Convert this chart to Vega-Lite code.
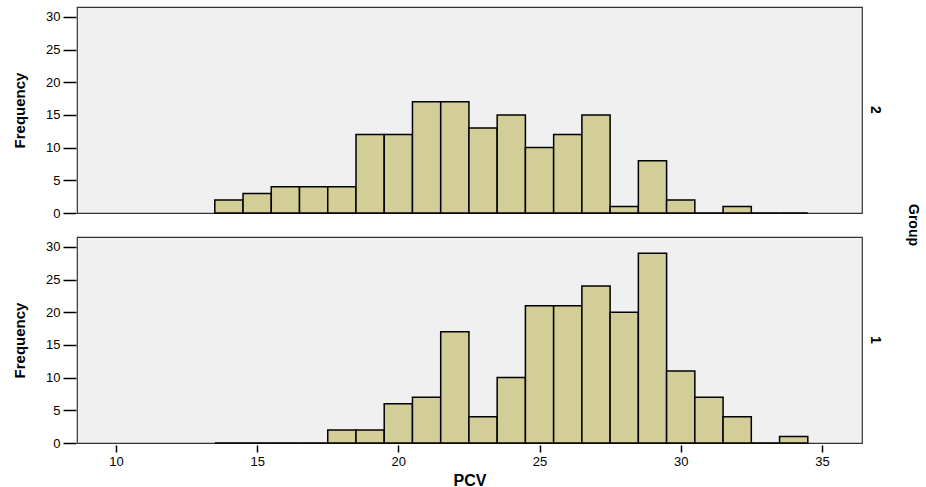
{
  "$schema": "https://vega.github.io/schema/vega-lite/v6.json",
  "padding": {"left": 12, "top": 6, "right": 2, "bottom": 2},
  "data": {"values": [
    {"group": 2, "bin_start": 13.5, "bin_end": 14.5, "count": 2},
    {"group": 2, "bin_start": 14.5, "bin_end": 15.5, "count": 3},
    {"group": 2, "bin_start": 15.5, "bin_end": 16.5, "count": 4},
    {"group": 2, "bin_start": 16.5, "bin_end": 17.5, "count": 4},
    {"group": 2, "bin_start": 17.5, "bin_end": 18.5, "count": 4},
    {"group": 2, "bin_start": 18.5, "bin_end": 19.5, "count": 12},
    {"group": 2, "bin_start": 19.5, "bin_end": 20.5, "count": 12},
    {"group": 2, "bin_start": 20.5, "bin_end": 21.5, "count": 17},
    {"group": 2, "bin_start": 21.5, "bin_end": 22.5, "count": 17},
    {"group": 2, "bin_start": 22.5, "bin_end": 23.5, "count": 13},
    {"group": 2, "bin_start": 23.5, "bin_end": 24.5, "count": 15},
    {"group": 2, "bin_start": 24.5, "bin_end": 25.5, "count": 10},
    {"group": 2, "bin_start": 25.5, "bin_end": 26.5, "count": 12},
    {"group": 2, "bin_start": 26.5, "bin_end": 27.5, "count": 15},
    {"group": 2, "bin_start": 27.5, "bin_end": 28.5, "count": 1},
    {"group": 2, "bin_start": 28.5, "bin_end": 29.5, "count": 8},
    {"group": 2, "bin_start": 29.5, "bin_end": 30.5, "count": 2},
    {"group": 2, "bin_start": 30.5, "bin_end": 31.5, "count": 0},
    {"group": 2, "bin_start": 31.5, "bin_end": 32.5, "count": 1},
    {"group": 2, "bin_start": 32.5, "bin_end": 33.5, "count": 0},
    {"group": 2, "bin_start": 33.5, "bin_end": 34.5, "count": 0},
    {"group": 1, "bin_start": 13.5, "bin_end": 14.5, "count": 0},
    {"group": 1, "bin_start": 14.5, "bin_end": 15.5, "count": 0},
    {"group": 1, "bin_start": 15.5, "bin_end": 16.5, "count": 0},
    {"group": 1, "bin_start": 16.5, "bin_end": 17.5, "count": 0},
    {"group": 1, "bin_start": 17.5, "bin_end": 18.5, "count": 2},
    {"group": 1, "bin_start": 18.5, "bin_end": 19.5, "count": 2},
    {"group": 1, "bin_start": 19.5, "bin_end": 20.5, "count": 6},
    {"group": 1, "bin_start": 20.5, "bin_end": 21.5, "count": 7},
    {"group": 1, "bin_start": 21.5, "bin_end": 22.5, "count": 17},
    {"group": 1, "bin_start": 22.5, "bin_end": 23.5, "count": 4},
    {"group": 1, "bin_start": 23.5, "bin_end": 24.5, "count": 10},
    {"group": 1, "bin_start": 24.5, "bin_end": 25.5, "count": 21},
    {"group": 1, "bin_start": 25.5, "bin_end": 26.5, "count": 21},
    {"group": 1, "bin_start": 26.5, "bin_end": 27.5, "count": 24},
    {"group": 1, "bin_start": 27.5, "bin_end": 28.5, "count": 20},
    {"group": 1, "bin_start": 28.5, "bin_end": 29.5, "count": 29},
    {"group": 1, "bin_start": 29.5, "bin_end": 30.5, "count": 11},
    {"group": 1, "bin_start": 30.5, "bin_end": 31.5, "count": 7},
    {"group": 1, "bin_start": 31.5, "bin_end": 32.5, "count": 4},
    {"group": 1, "bin_start": 32.5, "bin_end": 33.5, "count": 0},
    {"group": 1, "bin_start": 33.5, "bin_end": 34.5, "count": 1}
  ]},
  "facet": {
    "row": {
      "field": "group", "type": "ordinal", "sort": "descending",
      "header": {
        "labelOrient": "right", "labelAngle": 90, "labelFont": "Liberation Sans",
        "labelFontWeight": "bold", "labelFontSize": 14, "labelColor": "#000", "labelPadding": 5,
        "title": "Group", "titleOrient": "right", "titleAngle": 90, "titleFont": "Liberation Sans",
        "titleFontSize": 14, "titleFontWeight": "bold", "titleColor": "#000", "titlePadding": 14
      }
    }
  },
  "spacing": 21,
  "spec": {
    "width": 785,
    "height": 206,
    "mark": {"type": "bar", "fill": "#d3ce97", "stroke": "#000", "strokeWidth": 1.5, "opacity": 1},
    "encoding": {
      "x": {
        "field": "bin_start", "type": "quantitative",
        "scale": {"domain": [8.62, 36.42], "nice": false, "zero": false},
        "axis": {
          "title": "PCV", "values": [10, 15, 20, 25, 30, 35], "grid": false, "domain": false,
          "tickSize": 7, "tickColor": "#000", "tickWidth": 1.5, "labelPadding": 3,
          "labelFont": "Liberation Sans", "labelFontSize": 13, "labelColor": "#000",
          "titleFont": "Liberation Sans", "titleFontSize": 16, "titleFontWeight": "bold", "titleColor": "#000",
          "titlePadding": 4
        }
      },
      "x2": {"field": "bin_end"},
      "y": {
        "field": "count", "type": "quantitative",
        "scale": {"domain": [0, 31.5], "nice": false},
        "axis": {
          "title": "Frequency", "values": [0, 5, 10, 15, 20, 25, 30], "grid": false, "domain": false,
          "tickSize": 13, "tickColor": "#000", "tickWidth": 1.5, "labelPadding": 3,
          "labelFont": "Liberation Sans", "labelFontSize": 13, "labelColor": "#000",
          "titleFont": "Liberation Sans", "titleFontSize": 15, "titleFontWeight": "bold", "titleColor": "#000",
          "titlePadding": 18
        }
      },
      "y2": {"datum": 0}
    }
  },
  "config": {
    "view": {"fill": "#f0f0f0", "stroke": "#333", "strokeWidth": 1.2},
    "font": "Liberation Sans"
  }
}
